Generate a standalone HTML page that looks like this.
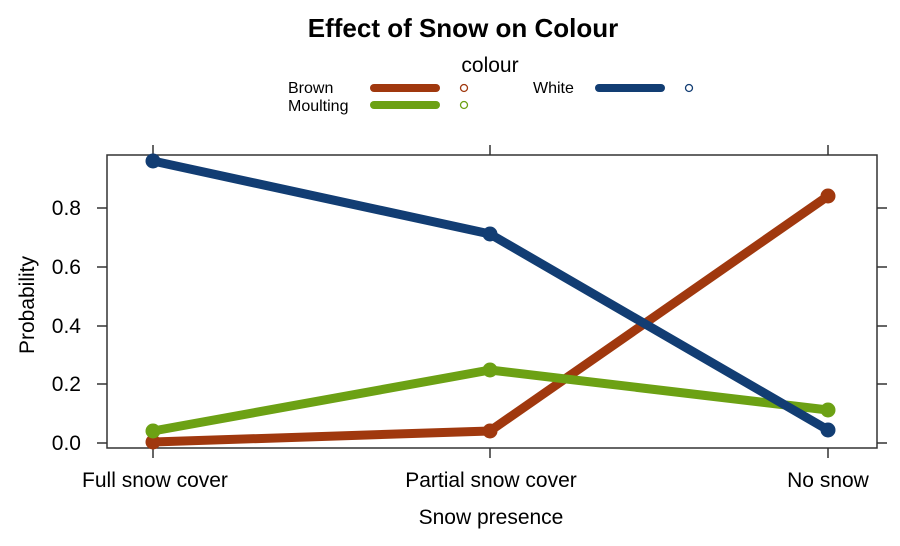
<!DOCTYPE html>
<html><head><style>body{margin:0;background:#fff}svg{display:block}text{font-family:"Liberation Sans",sans-serif}</style></head><body>
<svg width="900" height="546" viewBox="0 0 900 546">
<text x="463" y="37" font-size="26" font-weight="bold" text-anchor="middle">Effect of Snow on Colour</text>
<text x="490" y="72" font-size="21" text-anchor="middle">colour</text>
<text x="288" y="93" font-size="16">Brown</text>
<text x="288" y="111" font-size="16">Moulting</text>
<text x="533" y="93" font-size="16">White</text>
<line x1="374" y1="88" x2="436" y2="88" stroke="#a0380e" stroke-width="8" stroke-linecap="round"/>
<line x1="374" y1="105" x2="436" y2="105" stroke="#6ca114" stroke-width="8" stroke-linecap="round"/>
<line x1="599" y1="88" x2="661" y2="88" stroke="#123d73" stroke-width="8" stroke-linecap="round"/>
<circle cx="464" cy="88" r="3.5" fill="none" stroke="#a0380e" stroke-width="1.3"/>
<circle cx="464" cy="105" r="3.5" fill="none" stroke="#6ca114" stroke-width="1.3"/>
<circle cx="689" cy="88" r="3.5" fill="none" stroke="#123d73" stroke-width="1.3"/>
<rect x="107" y="155" width="770" height="293" fill="none" stroke="#333" stroke-width="1.5"/>
<g stroke="#333" stroke-width="1.5">
<line x1="153" y1="155" x2="153" y2="145"/><line x1="490" y1="155" x2="490" y2="145"/><line x1="828" y1="155" x2="828" y2="145"/>
<line x1="153" y1="448" x2="153" y2="458"/><line x1="490" y1="448" x2="490" y2="458"/><line x1="828" y1="448" x2="828" y2="458"/>
<line x1="107" y1="443" x2="97" y2="443"/><line x1="107" y1="384" x2="97" y2="384"/><line x1="107" y1="326" x2="97" y2="326"/><line x1="107" y1="267" x2="97" y2="267"/><line x1="107" y1="208" x2="97" y2="208"/>
<line x1="877" y1="443" x2="887" y2="443"/><line x1="877" y1="384" x2="887" y2="384"/><line x1="877" y1="326" x2="887" y2="326"/><line x1="877" y1="267" x2="887" y2="267"/><line x1="877" y1="208" x2="887" y2="208"/>
</g>
<g font-size="21" text-anchor="end">
<text x="81" y="450">0.0</text><text x="81" y="391">0.2</text><text x="81" y="333">0.4</text><text x="81" y="274">0.6</text><text x="81" y="215">0.8</text>
</g>
<g font-size="21" text-anchor="middle">
<text x="155" y="487">Full snow cover</text><text x="491" y="487">Partial snow cover</text><text x="828" y="487">No snow</text>
<text x="491" y="524">Snow presence</text>
</g>
<text transform="translate(34,305) rotate(-90)" font-size="21" text-anchor="middle">Probability</text>
<g stroke-width="9" stroke-linecap="round" stroke-linejoin="round" fill="none">
<polyline points="153,442 490,431 828,196" stroke="#a0380e"/>
<polyline points="153,431 490,370 828,410" stroke="#6ca114"/>
<polyline points="153,161 490,234 828,430" stroke="#123d73"/>
</g>
<g fill="#a0380e"><circle cx="153" cy="442" r="7.5"/><circle cx="490" cy="431" r="7.5"/><circle cx="828" cy="196" r="7.5"/></g>
<g fill="#6ca114"><circle cx="153" cy="431" r="7.5"/><circle cx="490" cy="370" r="7.5"/><circle cx="828" cy="410" r="7.5"/></g>
<g fill="#123d73"><circle cx="153" cy="161" r="7.5"/><circle cx="490" cy="234" r="7.5"/><circle cx="828" cy="430" r="7.5"/></g>
</svg>
</body></html>
